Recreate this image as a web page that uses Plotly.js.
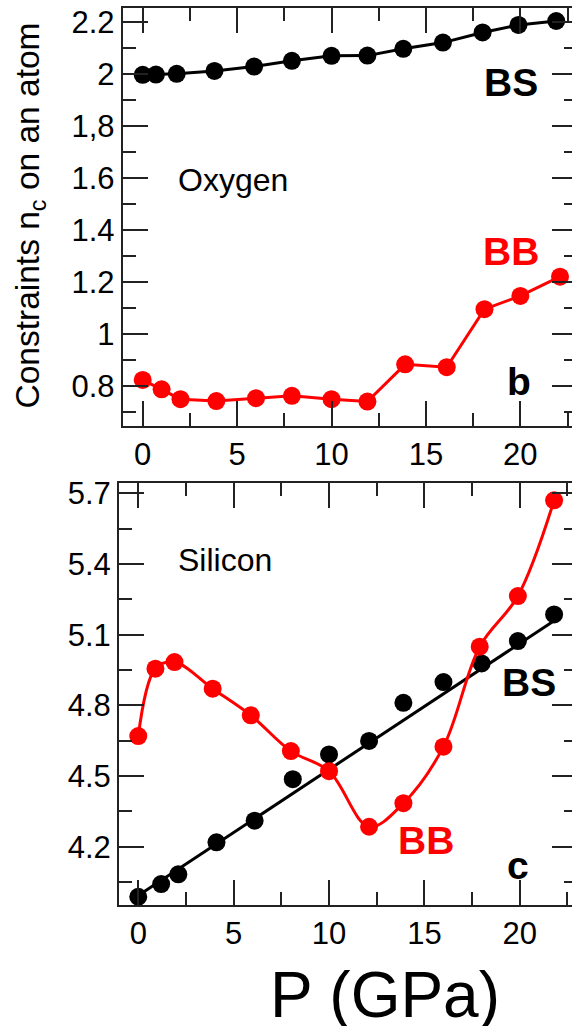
<!DOCTYPE html>
<html>
<head>
<meta charset="utf-8">
<script src="https://cdn.plot.ly/plotly-3.0.1.min.js"></script>
<style>
  html, body { margin: 0; padding: 0; overflow: hidden; background: #fff; }
  #chart { width: 577px; height: 1026px; }
</style>
</head>
<body>
<div id="chart"></div>
<script>
// Oxygen: bond-stretching (BS) and bond-bending (BB) constraints vs pressure
const oxBsP = [0, 0.7, 1.8, 3.8, 5.9, 7.9, 10, 11.9, 13.8, 15.9, 18, 19.9, 21.9];
const oxBs  = [1.996, 1.997, 2.0, 2.011, 2.028, 2.05, 2.069, 2.07, 2.096, 2.12, 2.159, 2.188, 2.203];
const oxBbP = [0, 1, 2, 3.9, 6, 7.9, 10, 11.9, 13.9, 16.1, 18.1, 20, 22.1];
const oxBb  = [0.823, 0.787, 0.749, 0.742, 0.753, 0.762, 0.749, 0.74, 0.883, 0.872, 1.095, 1.146, 1.22];

// Silicon
const siBsP = [0, 1.2, 2.1, 4.1, 6.1, 8.1, 10, 12.1, 13.9, 16, 18, 19.9, 21.8];
const siBs  = [3.988, 4.042, 4.083, 4.219, 4.311, 4.487, 4.592, 4.649, 4.811, 4.899, 4.978, 5.073, 5.186];
const siBbP = [0, 0.9, 1.9, 3.9, 5.9, 8, 10, 12.1, 13.9, 16, 17.9, 19.9, 21.8];
const siBb  = [4.67, 4.956, 4.984, 4.871, 4.758, 4.606, 4.521, 4.285, 4.385, 4.625, 5.049, 5.264, 5.67];

// Linear trend through the silicon BS points
const siBsFitIntercept = 3.993;
const siBsFitSlope = 0.0535;

// Tick labels of the oxygen panel
const oxTickVals = [0.8, 1, 1.2, 1.4, 1.6, 1.8, 2, 2.2];
const oxTickText = ['0.8', '1', '1.2', '1.4', '1.6', '1,8', '2', '2.2'];

const FONT = 'Liberation Sans, Arial, Helvetica, sans-serif';
const RED = '#ff0000';
const BLACK = '#000000';
const MSIZE = 18;

const fitP = [Math.min(...siBsP), Math.max(...siBsP)];
const fitV = fitP.map(p => siBsFitIntercept + siBsFitSlope * p);

const traces = [
  { x: oxBsP, y: oxBs, xaxis: 'x', yaxis: 'y', mode: 'lines+markers',
    line: { color: BLACK, width: 3 }, marker: { color: BLACK, size: MSIZE } },
  { x: oxBbP, y: oxBb, xaxis: 'x', yaxis: 'y', mode: 'lines+markers',
    line: { color: RED, width: 3 }, marker: { color: RED, size: MSIZE } },
  { x: fitP, y: fitV, xaxis: 'x2', yaxis: 'y2', mode: 'lines',
    line: { color: BLACK, width: 3 } },
  { x: siBsP, y: siBs, xaxis: 'x2', yaxis: 'y2', mode: 'markers',
    marker: { color: BLACK, size: MSIZE } },
  { x: siBbP, y: siBb, xaxis: 'x2', yaxis: 'y2', mode: 'lines+markers',
    line: { color: RED, width: 3, shape: 'spline', smoothing: 1 },
    marker: { color: RED, size: MSIZE } }
];

function xAxis(domain, range, anchor) {
  return {
    domain: domain, range: range, anchor: anchor,
    tickmode: 'linear', tick0: 0, dtick: 5,
    ticks: 'inside', ticklen: 25, tickwidth: 2, tickcolor: '#222',
    minor: { tickmode: 'linear', tick0: 0, dtick: 2.5, ticks: 'inside', ticklen: 13, tickwidth: 2, tickcolor: '#222', showgrid: false },
    mirror: 'allticks', showline: true, linewidth: 2, linecolor: '#222',
    showgrid: false, zeroline: false,
    tickfont: { family: FONT, size: 31, color: '#000' }
  };
}

const W = 577;
const H = 1026;
const topXDomain = [122.7 / W, 1];
const topXRange = [-1.06, 23.0];
const layout = {
  width: W, height: H,
  margin: { l: 0, r: 0, t: 0, b: 0 },
  paper_bgcolor: '#fff', plot_bgcolor: '#fff',
  showlegend: false,
  font: { family: FONT, color: '#000' },
  xaxis: xAxis(topXDomain, topXRange, 'y'),
  // top edge of the oxygen panel: every 2.5 GPa tick at full length
  xaxis3: {
    overlaying: 'x', anchor: 'y', side: 'top', domain: topXDomain, range: topXRange,
    tickmode: 'linear', tick0: 0, dtick: 2.5,
    ticks: 'inside', ticklen: 25, tickwidth: 2, tickcolor: '#222',
    showticklabels: false, showline: false, showgrid: false, zeroline: false
  },
  yaxis: {
    domain: [1 - 426 / H, 1 - 8 / H], range: [0.646, 2.253], anchor: 'x',
    tickmode: 'array', tickvals: oxTickVals, ticktext: oxTickText,
    ticks: 'inside', ticklen: 25, tickwidth: 2, tickcolor: '#222',
    minor: { tickmode: 'linear', tick0: 0.7, dtick: 0.1, ticks: 'inside', ticklen: 13, tickwidth: 2, tickcolor: '#222', showgrid: false },
    mirror: 'allticks', showline: true, linewidth: 2, linecolor: '#222',
    showgrid: false, zeroline: false,
    tickfont: { family: FONT, size: 31, color: '#000' }
  },
  xaxis2: xAxis([119 / W, 1], [-1.01, 23.0], 'y2'),
  yaxis2: {
    domain: [1 - 905 / H, 1 - 482.7 / H], range: [3.953, 5.745], anchor: 'x2',
    tickmode: 'linear', tick0: 4.2, dtick: 0.3,
    ticks: 'inside', ticklen: 25, tickwidth: 2, tickcolor: '#222',
    minor: { tickmode: 'linear', tick0: 4.05, dtick: 0.15, ticks: 'inside', ticklen: 13, tickwidth: 2, tickcolor: '#222', showgrid: false },
    mirror: 'allticks', showline: true, linewidth: 2, linecolor: '#222',
    showgrid: false, zeroline: false,
    tickfont: { family: FONT, size: 31, color: '#000' }
  },
  annotations: [
    { xref: 'x', yref: 'y', x: 19.5, y: 1.965, text: '<b>BS</b>', showarrow: false,
      xanchor: 'center', yanchor: 'middle', font: { family: FONT, size: 39, color: BLACK } },
    { xref: 'x', yref: 'y', x: 19.5, y: 1.315, text: '<b>BB</b>', showarrow: false,
      xanchor: 'center', yanchor: 'middle', font: { family: FONT, size: 39, color: RED } },
    { xref: 'x', yref: 'y', x: 19.93, y: 0.818, text: '<b>b</b>', showarrow: false,
      xanchor: 'center', yanchor: 'middle', font: { family: FONT, size: 39, color: BLACK } },
    { xref: 'x', yref: 'y', x: 1.77, y: 1.592, xanchor: 'left', yanchor: 'middle', text: 'Oxygen', showarrow: false,
      font: { family: FONT, size: 32, color: BLACK } },
    { xref: 'x2', yref: 'y2', x: 1.98, y: 5.415, xanchor: 'left', yanchor: 'middle', text: 'Silicon', showarrow: false,
      font: { family: FONT, size: 32, color: BLACK } },
    { xref: 'x2', yref: 'y2', x: 20.48, y: 4.898, text: '<b>BS</b>', showarrow: false,
      xanchor: 'center', yanchor: 'middle', font: { family: FONT, size: 39, color: BLACK } },
    { xref: 'x2', yref: 'y2', x: 15.06, y: 4.227, text: '<b>BB</b>', showarrow: false,
      xanchor: 'center', yanchor: 'middle', font: { family: FONT, size: 39, color: RED } },
    { xref: 'x2', yref: 'y2', x: 19.9, y: 4.121, text: '<b>c</b>', showarrow: false,
      xanchor: 'center', yanchor: 'middle', font: { family: FONT, size: 39, color: BLACK } },
    { xref: 'paper', yref: 'paper', x: 29.5 / W, y: 1 - 216 / H, textangle: -90,
      xanchor: 'center', yanchor: 'middle',
      text: 'Constraints n<sub>c</sub> on an atom', showarrow: false,
      font: { family: FONT, size: 33.5, color: BLACK } },
    { xref: 'paper', yref: 'paper', x: 384.5 / W, y: 1 - 995 / H,
      xanchor: 'center', yanchor: 'middle',
      text: 'P (GPa)', showarrow: false,
      font: { family: FONT, size: 64, color: BLACK } }
  ]
};

Plotly.newPlot('chart', traces, layout, { staticPlot: true, displayModeBar: false });
</script>
</body>
</html>
